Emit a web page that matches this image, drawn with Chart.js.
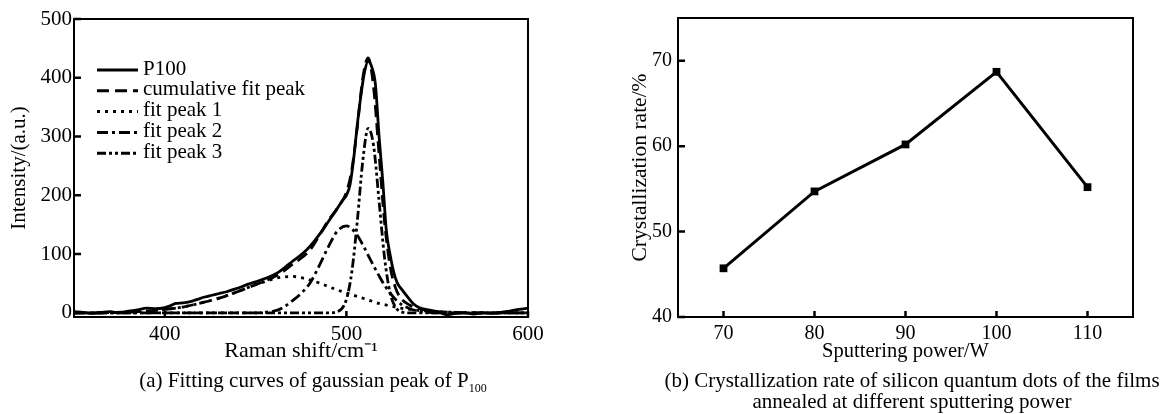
<!DOCTYPE html>
<html>
<head>
<meta charset="utf-8">
<script src="https://cdn.jsdelivr.net/npm/chart.js@4.4.0/dist/chart.umd.min.js"></script>
<style>
body { margin: 0; background: #fff; }
#wrap { position: relative; width: 1170px; height: 414px; font-family: "Liberation Serif", serif; color: #000; }
canvas { position: absolute; top: 0; }
.cap { position: absolute; font-size: 21px; text-align: center; white-space: nowrap; line-height: 21px; }
.cap sub { font-size: 12px; vertical-align: -5px; line-height: 0; }
</style>
</head>
<body>
<div id="wrap">
  <canvas id="raman" width="585" height="414" style="left:0"></canvas>
  <canvas id="cryst" width="585" height="414" style="left:585px"></canvas>
  <div class="cap" style="left:113px; top:370px; width:400px;">(a) Fitting curves of gaussian peak of P<sub>100</sub></div>
  <div class="cap" style="left:612px; top:370px; width:600px;">(b) Crystallization rate of silicon quantum dots of the films<br>annealed at different sputtering power</div>
</div>
<script>
// (a) Raman spectrum P100
const ramanX = [350,355,360,365,370,375,380,385,390,395,400,403,406,410,414,418,422,426,430,434,438,442,446,450,454,458,462,466,470,474,478,482,486,490,494,498,500,502,504,506,508,510,512,514,516,518,520,522,524,526,528,531,534,537,540,545,550,555,560,565,570,575,580,585,590,595,600];
const p100Y = [2,1,-1,1,2,0,3,5,8,7,9,12,16,17,19,23,27,30,33,36,40,44,49,53,57,62,68,77,87,96,107,121,137,155,173,192,200,218,262,320,370,410,428,418,388,300,225,140,100,70,51,38,26,15,9,5,2,-3,-1,0,-2,0,-1,1,3,6,8];

// fitted curves
const fitX = [350,360,370,380,390,400,410,420,430,440,450,455,460,465,470,475,480,485,490,495,500,503,506,509,512,515,518,521,524,527,530,535,540,545,550,560,570,580,590,600];
const cumFitY = [0,0,0.5,1.5,3,6,10,17,25,36,48,54,61,70,82,93,107,131,157,178,205,244,316,399,434,383,269,155,81,43,25,13,7,4,2,1,0,0,0,0];
const peak1Y = [0,0,0.5,1.5,3,6,10,17,25,36,48,53,58,61,62,60,56,51,45,39,34,31,28,25,22,19,16,14,12,10,8,6,4,3,2,1,0,0,0,0];
const peak2Y = [0,0,0,0,0,0,0,0,0,0,0,1,3,9,20,33,51,80,112,139,148,143,132,116,98,80,63,47,34,23,15,7,3,1,0,0,0,0,0,0];
const peak3Y = [0,0,0,0,0,0,0,0,0,0,0,0,0,0,0,0,0,0,0,2,23,70,156,258,314,284,190,94,35,10,2,0,0,0,0,0,0,0,0,0];

const ramanTicksX = [400, 500, 600];
const ramanTicksY = [0, 100, 200, 300, 400, 500];

// (b) crystallization rate
const powerW = [70, 80, 90, 100, 110];
const crystRate = [45.7, 54.7, 60.2, 68.7, 55.2];
const powerTicks = [70, 80, 90, 100, 110];
const rateTicks = [40, 50, 60, 70];

Chart.defaults.font.family = "'Liberation Serif', serif";
Chart.defaults.color = '#000';

function pts(xs, ys) {
  return xs.map((x, i) => ({ x: x, y: ys[i] }));
}

// box around the plot and ticks pointing inward
const frameTicks = {
  id: 'frameTicks',
  afterDraw(chart) {
    const ctx = chart.ctx, a = chart.chartArea;
    const x = chart.scales.x, y = chart.scales.y;
    ctx.save();
    ctx.strokeStyle = '#000';
    ctx.lineWidth = 2;
    ctx.strokeRect(a.left, a.top, a.right - a.left, a.bottom - a.top);
    ctx.lineWidth = 2.5;
    ctx.beginPath();
    x.ticks.forEach(t => {
      const px = x.getPixelForValue(t.value);
      ctx.moveTo(px, a.bottom);
      ctx.lineTo(px, a.bottom - 6);
    });
    y.ticks.forEach(t => {
      const py = y.getPixelForValue(t.value);
      ctx.moveTo(a.left, py);
      ctx.lineTo(a.left + 7, py);
    });
    ctx.stroke();
    ctx.restore();
  }
};

// legend drawn inside the plot area
const inlineLegend = {
  id: 'inlineLegend',
  afterDraw(chart) {
    const ctx = chart.ctx, a = chart.chartArea;
    ctx.save();
    ctx.font = "21px 'Liberation Serif'";
    ctx.textBaseline = 'middle';
    ctx.fillStyle = '#000';
    chart.data.datasets.forEach((ds, i) => {
      const yy = a.top + 50 + i * 20.8;
      ctx.strokeStyle = '#000';
      ctx.lineWidth = 3;
      ctx.setLineDash(ds.borderDash || []);
      ctx.beginPath();
      ctx.moveTo(a.left + 23, yy + 1);
      ctx.lineTo(a.left + 64, yy + 1);
      ctx.stroke();
      ctx.setLineDash([]);
      ctx.fillText(ds.label, a.left + 69, yy);
    });
    ctx.restore();
  }
};

function curve(label, data, dash) {
  return {
    label: label,
    data: data,
    borderColor: '#000',
    borderWidth: 2.8,
    borderDash: dash,
    pointRadius: 0,
    fill: false,
    cubicInterpolationMode: 'monotone'
  };
}

new Chart(document.getElementById('raman'), {
  type: 'line',
  data: {
    datasets: [
      curve('P100', pts(ramanX, p100Y), []),
      curve('cumulative fit peak', pts(fitX, cumFitY), [12, 6]),
      curve('fit peak 1', pts(fitX, peak1Y), [3, 5]),
      curve('fit peak 2', pts(fitX, peak2Y), [11, 4, 3, 4]),
      curve('fit peak 3', pts(fitX, peak3Y), [9, 3, 3, 3, 3, 3])
    ]
  },
  options: {
    responsive: false,
    animation: false,
    layout: { padding: { top: 19, right: 57, bottom: 50, left: 0 } },
    plugins: { legend: { display: false }, tooltip: { enabled: false } },
    scales: {
      x: {
        type: 'linear', min: 350, max: 600,
        grid: { display: false, drawTicks: false },
        border: { display: false },
        afterBuildTicks: s => { s.ticks = ramanTicksX.map(v => ({ value: v })); },
        afterFit: s => { s.height = 47; },
        ticks: { padding: 5, font: { size: 21 }, maxRotation: 0 },
        title: { display: true, text: 'Raman shift/cm⁻¹', font: { size: 22 }, padding: { top: 0, bottom: 0 } }
      },
      y: {
        min: -7, max: 500,
        grid: { display: false, drawTicks: false },
        border: { display: false },
        afterBuildTicks: s => { s.ticks = ramanTicksY.map(v => ({ value: v })); },
        afterFit: s => { s.width = 74; },
        ticks: { padding: 2, font: { size: 21 } },
        title: { display: true, text: 'Intensity/(a.u.)', font: { size: 21 }, padding: { top: 7, bottom: 0 } }
      }
    }
  },
  plugins: [frameTicks, inlineLegend]
});

new Chart(document.getElementById('cryst'), {
  type: 'line',
  data: {
    datasets: [{
      label: 'Crystallization rate',
      data: pts(powerW, crystRate),
      borderColor: '#000',
      borderWidth: 3,
      pointStyle: 'rect',
      pointRadius: 5.5,
      pointBackgroundColor: '#000',
      pointBorderWidth: 0,
      fill: false,
      tension: 0
    }]
  },
  options: {
    responsive: false,
    animation: false,
    layout: { padding: { top: 17, right: 37, bottom: 50, left: 0 } },
    plugins: { legend: { display: false }, tooltip: { enabled: false } },
    scales: {
      x: {
        type: 'linear', min: 65, max: 115,
        grid: { display: false, drawTicks: false },
        border: { display: false },
        afterBuildTicks: s => { s.ticks = powerTicks.map(v => ({ value: v })); },
        afterFit: s => { s.height = 47; },
        ticks: { padding: 5, font: { size: 20 }, maxRotation: 0 },
        title: { display: true, text: 'Sputtering power/W', font: { size: 20.5 }, padding: { top: 0, bottom: 0 } }
      },
      y: {
        min: 40, max: 75,
        grid: { display: false, drawTicks: false },
        border: { display: false },
        afterBuildTicks: s => { s.ticks = rateTicks.map(v => ({ value: v })); },
        afterFit: s => { s.width = 93; },
        ticks: { padding: 6, font: { size: 20 } },
        title: { display: true, text: 'Crystallization rate/%', font: { size: 21.5 }, padding: { top: 42, bottom: 0 } }
      }
    }
  },
  plugins: [frameTicks]
});
</script>
</body>
</html>
